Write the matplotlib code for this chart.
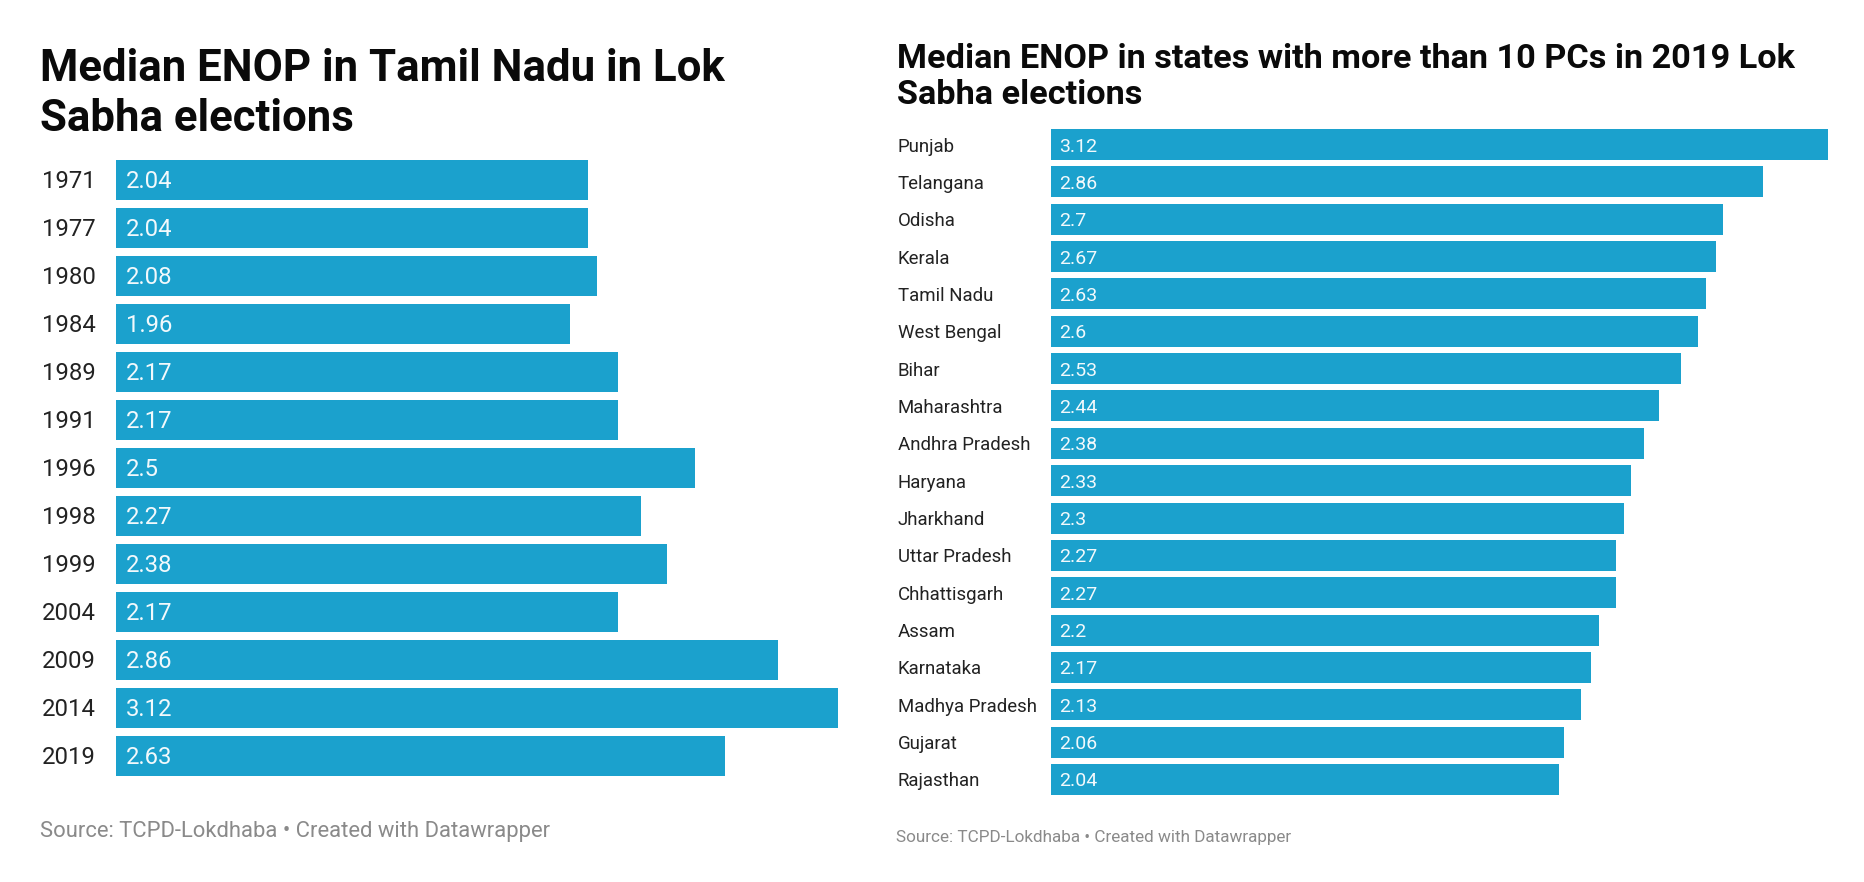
import matplotlib
matplotlib.use("Agg")
import matplotlib.pyplot as plt
from matplotlib.transforms import blended_transform_factory

# ---------------- data ----------------
years = ["1971", "1977", "1980", "1984", "1989", "1991", "1996", "1998",
         "1999", "2004", "2009", "2014", "2019"]
tn_enop = [2.04, 2.04, 2.08, 1.96, 2.17, 2.17, 2.5, 2.27, 2.38, 2.17, 2.86, 3.12, 2.63]
tn_labels = ["2.04", "2.04", "2.08", "1.96", "2.17", "2.17", "2.5", "2.27",
             "2.38", "2.17", "2.86", "3.12", "2.63"]

states = ["Punjab", "Telangana", "Odisha", "Kerala", "Tamil Nadu", "West Bengal",
          "Bihar", "Maharashtra", "Andhra Pradesh", "Haryana", "Jharkhand",
          "Uttar Pradesh", "Chhattisgarh", "Assam", "Karnataka", "Madhya Pradesh",
          "Gujarat", "Rajasthan"]
state_enop = [3.12, 2.86, 2.7, 2.67, 2.63, 2.6, 2.53, 2.44, 2.38, 2.33, 2.3,
              2.27, 2.27, 2.2, 2.17, 2.13, 2.06, 2.04]
state_labels = ["3.12", "2.86", "2.7", "2.67", "2.63", "2.6", "2.53", "2.44", "2.38",
                "2.33", "2.3", "2.27", "2.27", "2.2", "2.17", "2.13", "2.06", "2.04"]

left_title = ["Median ENOP in Tamil Nadu in Lok", "Sabha elections"]
right_title = ["Median ENOP in states with more than 10 PCs in 2019 Lok", "Sabha elections"]
source_text = "Source: TCPD-Lokdhaba \u2022 Created with Datawrapper"

# ---------------- style ----------------
W, H = 1865, 882
DPI = 100
BAR = "#1ba1cd"
VAL = "#f2f9fc"
LAB = "#222222"
SRC = "#8a8a8a"
FONT = "Roboto"

plt.rcParams["font.family"] = [FONT, "DejaVu Sans"]

fig = plt.figure(figsize=(W / DPI, H / DPI), dpi=DPI)
fig.patch.set_facecolor("white")


def fx(px):
    return px / W


def fy(py):
    return 1 - py / H


def add_ax(left, top, width, height):
    ax = fig.add_axes([fx(left), fy(top + height), width / W, height / H])
    ax.set_axis_off()
    return ax


def draw_panel(ax, cats, vals, labs, bar_frac, label_x, lab_size, val_size,
               val_off_px, cap_px):
    n = len(cats)
    pos = list(range(n))
    ax.barh(pos, vals, height=bar_frac, color=BAR, edgecolor="none")
    ax.set_xlim(0, max(vals))
    ax.set_ylim(n - 0.5, -0.5)
    tr = blended_transform_factory(fig.transFigure, ax.transData)
    for i, (c, v, l) in enumerate(zip(cats, vals, labs)):
        ax.annotate(c, xy=(fx(label_x), i), xycoords=tr,
                    xytext=(0, -cap_px / 2 * 0.72), textcoords="offset points",
                    ha="left", va="baseline", fontsize=lab_size, color=LAB,
                    family=FONT)
        ax.annotate(l, xy=(0, i), xycoords="data",
                    xytext=(val_off_px * 0.72, -cap_px / 2 * 0.72),
                    textcoords="offset points",
                    ha="left", va="baseline", fontsize=val_size, color=VAL,
                    family=FONT)


# Left panel: bars start at x=116, 3.12 ends at 838; pitch 48, bar 40
axL = add_ax(116, 156, 722, 13 * 48)
draw_panel(axL, years, tn_enop, tn_labels, 40 / 48, 42, 17.2, 17.2, 10, 17)

# Right panel: bars start at x=1051, 3.12 ends at 1828; pitch 37.35, bar 31
pitchR = 37.35
axR = add_ax(1051, 144.5 - pitchR / 2, 777, 18 * pitchR)
draw_panel(axR, states, state_enop, state_labels, 31 / pitchR, 898, 13.4, 14.0, 8, 14)

# Titles
TCOL = "#0a0a0a"
fig.text(fx(40), fy(81), left_title[0], fontsize=31.5, fontweight="bold",
         color=TCOL, ha="left", va="baseline", family=FONT)
fig.text(fx(40), fy(131), left_title[1], fontsize=31.5, fontweight="bold",
         color=TCOL, ha="left", va="baseline", family=FONT)
fig.text(fx(897), fy(68), right_title[0], fontsize=24.7, fontweight="bold",
         color=TCOL, ha="left", va="baseline", family=FONT)
fig.text(fx(897), fy(104), right_title[1], fontsize=24.7, fontweight="bold",
         color=TCOL, ha="left", va="baseline", family=FONT)

# Sources
fig.text(fx(40), fy(837), source_text, fontsize=15.8, color=SRC,
         ha="left", va="baseline", family=FONT)
fig.text(fx(896), fy(842), source_text, fontsize=12.35, color=SRC,
         ha="left", va="baseline", family=FONT)

fig.savefig("out.png", dpi=DPI, facecolor="white")
